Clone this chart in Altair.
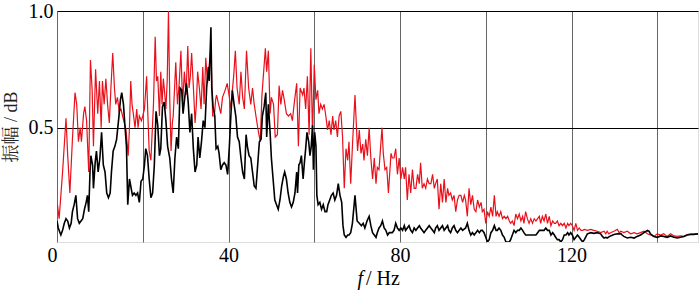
import altair as alt
import pandas as pd

# ---- red series (frequency Hz, amplitude) ----
red_f = [
    0.1, 0.5, 1.3, 2.1, 2.5, 3.0, 3.6, 4.2, 4.6, 5.0,
    5.4, 5.7, 6.2, 6.5, 6.9, 7.4, 7.8, 8.2, 8.5, 9.0,
    9.5, 9.9, 10.3, 10.6, 11.0, 11.4, 11.8, 12.2, 12.6, 13.0,
    13.4, 13.7, 14.1, 14.5, 14.9, 15.3, 15.7, 16.1, 16.6, 16.9,
    17.2, 17.5, 17.8, 18.2, 18.6, 18.9, 19.2, 19.7, 20.0, 20.4,
    20.9, 21.2, 21.5, 21.9, 22.2, 22.5, 22.9, 23.2, 23.5, 23.9,
    24.2, 24.5, 24.8, 25.1, 25.4, 25.7, 26.0, 26.3, 26.6, 26.9,
    27.1, 27.4, 27.7, 28.1, 28.5, 28.9, 29.3, 29.7, 30.1, 30.5,
    30.8, 31.1, 31.4, 31.9, 32.2, 32.5, 32.8, 33.2, 33.6, 34.0,
    34.3, 34.7, 35.1, 35.5, 35.9, 36.3, 36.7, 37.0, 37.2, 37.7,
    38.2, 38.6, 39.2, 39.7, 40.2, 40.6, 40.9, 41.2, 41.6, 42.0,
    42.5, 42.9, 43.3, 43.7, 44.2, 44.7, 45.2, 45.6, 46.0, 46.4,
    46.9, 47.4, 47.8, 48.2, 48.6, 48.9, 49.3, 49.7, 50.0, 50.5,
    50.9, 51.4, 51.8, 52.2, 52.6, 53.0, 53.5, 54.0, 54.5, 54.9,
    55.3, 55.9, 56.3, 56.7, 57.3, 57.6, 58.0, 58.4, 58.8, 59.2,
    59.6, 60.0, 60.4, 60.8, 61.1, 61.5, 61.9, 62.3, 62.7, 63.1,
    63.5, 63.9, 64.3, 64.6, 65.0, 65.4, 65.8, 66.2, 66.6, 67.0,
    67.4, 67.8, 68.1, 68.5, 68.9, 69.5, 70.1, 70.5, 70.9, 71.3,
    71.6, 72.0, 72.4, 72.8, 73.2, 73.6, 74.0, 74.4, 74.7, 75.1,
    75.8, 76.1, 76.5, 76.9, 77.3, 77.9, 78.2, 78.6, 79.0, 79.4,
    79.8, 80.2, 80.6, 81.0, 81.3, 81.7, 82.1, 82.5, 82.9, 83.3,
    83.7, 84.1, 84.5, 84.8, 85.2, 85.6, 86.0, 86.4, 86.8, 87.2,
    87.6, 88.0, 88.3, 88.7, 89.1, 89.5, 89.9, 90.3, 90.7, 91.1,
    91.4, 91.8, 92.2, 92.6, 93.0, 93.4, 93.8, 94.2, 94.6, 95.0,
    95.3, 95.7, 96.1, 96.5, 96.9, 97.3, 97.7, 98.1, 98.5, 98.9,
    99.2, 99.6, 100.0, 100.4, 100.8, 101.2, 101.6, 102.0, 102.4, 102.7,
    103.1, 103.5, 103.9, 104.3, 104.7, 105.1, 105.5, 105.8, 106.2, 106.6,
    107.0, 107.4, 107.8, 108.2, 108.6, 108.9, 109.3, 109.7, 110.1, 110.5,
    110.9, 111.3, 111.7, 112.1, 112.5, 112.8, 113.2, 113.6, 114.0, 114.4,
    114.8, 115.2, 115.6, 116.0, 116.3, 116.7, 117.1, 117.5, 117.9, 118.3,
    118.7, 119.1, 119.4, 119.8, 120.2, 120.6, 121.0, 121.4, 121.8, 122.2,
    122.6, 123.0, 123.7, 124.5, 125.2, 126.0, 126.8, 127.6, 128.0, 128.3,
    128.7, 129.1, 129.9, 130.3, 130.7, 131.1, 131.5, 132.2, 133.0, 133.8,
    134.6, 135.3, 136.1, 136.9, 137.7, 138.4, 139.2, 140.0, 140.8, 141.5,
    142.3, 143.1, 143.9, 144.7, 145.4, 146.2, 147.0, 147.8, 148.5, 149.5,
]
red_v = [
    0.17, 0.11, 0.31, 0.54, 0.38, 0.22, 0.45, 0.65, 0.60, 0.44,
    0.50, 0.44, 0.56, 0.59, 0.53, 0.31, 0.79, 0.66, 0.42, 0.75,
    0.56, 0.70, 0.50, 0.70, 0.60, 0.71, 0.60, 0.52, 0.68, 0.82,
    0.67, 0.60, 0.63, 0.57, 0.58, 0.55, 0.52, 0.49, 0.38, 0.50,
    0.70, 0.60, 0.56, 0.50, 0.58, 0.50, 0.55, 0.53, 0.55, 0.58,
    0.72, 0.55, 0.40, 0.36, 0.48, 0.60, 0.89, 0.70, 0.72, 0.55,
    0.74, 0.60, 0.71, 0.65, 0.58, 0.70, 1.00, 0.62, 0.40, 0.52,
    0.55, 0.66, 0.78, 0.60, 0.69, 0.83, 0.60, 0.74, 0.64, 0.85,
    0.67, 0.72, 0.82, 0.64, 0.52, 0.60, 0.74, 0.67, 0.58, 0.76,
    0.60, 0.80, 0.69, 0.77, 0.84, 0.55, 0.55, 0.62, 0.64, 0.60,
    0.56, 0.63, 0.66, 0.69, 0.63, 0.58, 0.66, 0.72, 0.83, 0.67,
    0.60, 0.74, 0.63, 0.58, 0.83, 0.67, 0.60, 0.67, 0.60, 0.55,
    0.49, 0.44, 0.64, 0.74, 0.84, 0.74, 0.83, 0.56, 0.63, 0.60,
    0.46, 0.47, 0.68, 0.60, 0.66, 0.62, 0.56, 0.55, 0.56, 0.53,
    0.60, 0.69, 0.42, 0.67, 0.64, 0.67, 0.58, 0.72, 0.47, 0.84,
    0.46, 0.77, 0.62, 0.66, 0.56, 0.60, 0.58, 0.60, 0.55, 0.49,
    0.53, 0.47, 0.55, 0.49, 0.53, 0.46, 0.55, 0.57, 0.46, 0.24,
    0.41, 0.36, 0.44, 0.26, 0.42, 0.64, 0.40, 0.49, 0.39, 0.43,
    0.36, 0.45, 0.38, 0.50, 0.37, 0.28, 0.37, 0.26, 0.33, 0.32,
    0.50, 0.39, 0.32, 0.33, 0.22, 0.39, 0.37, 0.37, 0.41, 0.30,
    0.37, 0.28, 0.33, 0.28, 0.33, 0.19, 0.30, 0.22, 0.32, 0.24,
    0.24, 0.30, 0.26, 0.35, 0.24, 0.26, 0.24, 0.28, 0.26, 0.26,
    0.30, 0.24, 0.26, 0.28, 0.15, 0.26, 0.18, 0.28, 0.18, 0.24,
    0.21, 0.22, 0.19, 0.21, 0.14, 0.19, 0.21, 0.21, 0.18, 0.21,
    0.19, 0.12, 0.24, 0.17, 0.21, 0.15, 0.14, 0.19, 0.16, 0.18,
    0.14, 0.15, 0.09, 0.14, 0.12, 0.16, 0.12, 0.21, 0.12, 0.14,
    0.12, 0.14, 0.11, 0.12, 0.11, 0.12, 0.10, 0.09, 0.10, 0.08,
    0.13, 0.11, 0.13, 0.10, 0.12, 0.09, 0.14, 0.11, 0.09, 0.11,
    0.09, 0.11, 0.10, 0.11, 0.12, 0.09, 0.12, 0.10, 0.13, 0.09,
    0.12, 0.08, 0.10, 0.09, 0.09, 0.10, 0.08, 0.09, 0.08, 0.09,
    0.07, 0.09, 0.08, 0.09, 0.08, 0.06, 0.09, 0.06, 0.07, 0.06,
    0.06, 0.064, 0.06, 0.064, 0.06, 0.056, 0.05, 0.056, 0.045, 0.056,
    0.045, 0.05, 0.056, 0.06, 0.064, 0.05, 0.056, 0.05, 0.056, 0.045,
    0.05, 0.045, 0.05, 0.056, 0.045, 0.04, 0.034, 0.045, 0.04, 0.046,
    0.034, 0.045, 0.036, 0.034, 0.036, 0.034, 0.042, 0.045, 0.045, 0.046,
]

# ---- black series ----
black_f = [
    0.0, 0.3, 0.9, 1.3, 1.7, 2.1, 2.5, 2.9, 3.3, 3.6,
    4.0, 4.4, 4.8, 5.2, 5.6, 6.0, 6.4, 6.8, 7.1, 7.4,
    7.7, 7.9, 8.3, 8.5, 8.9, 9.2, 9.6, 10.0, 10.4, 10.8,
    11.2, 11.6, 12.0, 12.4, 12.7, 13.1, 13.5, 13.9, 14.4, 14.8,
    15.1, 15.5, 15.8, 16.2, 16.5, 16.9, 17.2, 17.6, 18.0, 18.4,
    18.8, 19.2, 19.6, 20.0, 20.4, 20.7, 21.1, 21.5, 21.9, 22.3,
    22.7, 23.1, 23.5, 23.9, 24.2, 24.6, 25.0, 25.4, 25.8, 26.3,
    26.7, 27.1, 27.5, 27.9, 28.3, 28.7, 29.1, 29.4, 29.8, 30.2,
    30.6, 31.0, 31.4, 31.8, 32.2, 32.6, 32.9, 33.3, 33.7, 34.1,
    34.5, 34.9, 35.3, 35.5, 35.9, 36.1, 36.4, 36.8, 37.1, 37.5,
    37.8, 38.2, 38.6, 39.0, 39.4, 39.8, 40.2, 40.6, 40.9, 41.3,
    41.7, 42.1, 42.5, 42.9, 43.3, 43.7, 44.1, 44.4, 44.8, 45.2,
    45.6, 46.0, 46.4, 46.8, 47.2, 47.6, 47.9, 48.3, 48.7, 48.9,
    49.3, 49.7, 50.0, 50.4, 50.8, 51.2, 51.6, 52.0, 52.4, 52.8,
    53.1, 53.5, 53.9, 54.3, 54.7, 55.1, 55.5, 55.9, 56.1, 56.4,
    56.7, 57.0, 57.4, 57.7, 58.0, 58.3, 58.7, 59.0, 59.3, 59.6,
    59.8, 60.1, 60.4, 60.6, 60.9, 61.3, 61.7, 62.1, 62.5, 62.9,
    63.2, 63.6, 64.0, 64.4, 64.8, 65.2, 65.6, 66.0, 66.4, 66.7,
    67.0, 67.4, 67.8, 68.1, 68.5, 68.9, 69.5, 70.0, 70.5, 71.0,
    71.4, 71.8, 72.3, 72.8, 73.2, 73.6, 74.0, 74.4, 74.7, 75.1,
    75.5, 75.9, 76.3, 76.7, 77.1, 77.5, 77.8, 78.2, 78.6, 79.0,
    79.4, 79.8, 80.2, 80.6, 81.0, 81.3, 81.7, 82.1, 82.5, 82.9,
    83.3, 83.7, 84.1, 84.5, 84.8, 85.2, 85.6, 86.0, 86.4, 86.8,
    87.2, 87.6, 88.0, 88.3, 88.7, 89.1, 89.5, 89.9, 90.3, 90.7,
    91.1, 91.4, 91.8, 92.2, 92.6, 93.0, 93.4, 93.8, 94.2, 94.6,
    95.3, 95.7, 96.1, 96.5, 96.9, 97.3, 97.7, 98.1, 98.5, 98.9,
    99.2, 99.6, 100.0, 100.4, 100.8, 101.2, 101.6, 102.0, 102.4, 102.7,
    103.1, 103.5, 103.9, 104.3, 104.7, 105.1, 105.5, 105.8, 106.2, 106.6,
    107.0, 107.4, 107.8, 108.2, 108.6, 108.9, 109.3, 109.7, 110.1, 110.5,
    110.9, 111.3, 111.7, 112.1, 112.5, 112.8, 113.2, 113.6, 114.0, 114.4,
    114.8, 115.2, 115.6, 116.0, 116.3, 116.7, 117.1, 117.5, 117.9, 118.3,
    118.7, 119.1, 119.4, 119.8, 120.2, 120.6, 121.0, 121.4, 121.8, 122.2,
    122.6, 123.0, 123.7, 124.5, 125.2, 126.0, 126.8, 127.2, 127.6, 128.0,
    128.3, 129.1, 129.9, 130.7, 131.5, 131.8, 132.2, 133.0, 133.8, 134.6,
    135.3, 136.1, 136.9, 137.7, 138.1, 138.4, 139.2, 140.0, 140.8, 141.5,
    142.3, 143.1, 143.9, 144.7, 145.4, 146.2, 147.0, 147.8, 148.5, 149.5,
]
black_v = [
    0.10, 0.07, 0.04, 0.06, 0.09, 0.11, 0.10, 0.07, 0.09, 0.14,
    0.17, 0.21, 0.11, 0.09, 0.10, 0.11, 0.15, 0.18, 0.21, 0.14,
    0.31, 0.38, 0.34, 0.24, 0.35, 0.40, 0.31, 0.37, 0.48, 0.34,
    0.31, 0.22, 0.20, 0.22, 0.31, 0.40, 0.42, 0.45, 0.54, 0.62,
    0.65, 0.60, 0.52, 0.42, 0.17, 0.28, 0.25, 0.21, 0.22, 0.21,
    0.22, 0.18, 0.27, 0.28, 0.34, 0.41, 0.38, 0.28, 0.20, 0.22,
    0.34, 0.57, 0.51, 0.38, 0.41, 0.59, 0.61, 0.53, 0.42, 0.37,
    0.28, 0.22, 0.37, 0.46, 0.41, 0.67, 0.66, 0.56, 0.63, 0.69,
    0.61, 0.48, 0.56, 0.41, 0.31, 0.34, 0.46, 0.37, 0.44, 0.53,
    0.50, 0.67, 0.76, 0.70, 0.93, 0.67, 0.59, 0.55, 0.41, 0.42,
    0.39, 0.32, 0.34, 0.35, 0.34, 0.30, 0.42, 0.57, 0.66, 0.60,
    0.55, 0.46, 0.44, 0.37, 0.31, 0.28, 0.47, 0.42, 0.38, 0.37,
    0.31, 0.25, 0.24, 0.34, 0.44, 0.45, 0.55, 0.59, 0.65, 0.46,
    0.60, 0.48, 0.37, 0.28, 0.19, 0.17, 0.15, 0.19, 0.25, 0.29,
    0.31, 0.28, 0.22, 0.18, 0.16, 0.18, 0.22, 0.31, 0.22, 0.34,
    0.35, 0.38, 0.28, 0.35, 0.41, 0.48, 0.44, 0.38, 0.42, 0.51,
    0.32, 0.48, 0.42, 0.21, 0.17, 0.18, 0.15, 0.17, 0.14, 0.14,
    0.17, 0.19, 0.21, 0.22, 0.19, 0.21, 0.26, 0.21, 0.18, 0.08,
    0.04, 0.03, 0.04, 0.04, 0.05, 0.09, 0.21, 0.10, 0.09, 0.08,
    0.09, 0.07, 0.10, 0.12, 0.08, 0.05, 0.04, 0.03, 0.05, 0.07,
    0.08, 0.10, 0.07, 0.06, 0.04, 0.05, 0.05, 0.05, 0.06, 0.09,
    0.07, 0.06, 0.07, 0.06, 0.08, 0.06, 0.07, 0.08, 0.06, 0.05,
    0.07, 0.06, 0.07, 0.08, 0.07, 0.06, 0.05, 0.06, 0.07, 0.08,
    0.07, 0.06, 0.05, 0.07, 0.08, 0.06, 0.07, 0.08, 0.06, 0.07,
    0.08, 0.06, 0.05, 0.07, 0.08, 0.06, 0.05, 0.06, 0.07, 0.06,
    0.07, 0.09, 0.06, 0.04, 0.05, 0.04, 0.05, 0.06, 0.05, 0.06,
    0.06, 0.05, 0.03, 0.01, 0.02, 0.05, 0.06, 0.08, 0.06, 0.06,
    0.07, 0.06, 0.04, 0.03, 0.01, 0.01, 0.01, 0.02, 0.04, 0.06,
    0.05, 0.06, 0.06, 0.07, 0.06, 0.05, 0.04, 0.04, 0.04, 0.04,
    0.04, 0.04, 0.04, 0.05, 0.06, 0.06, 0.06, 0.06, 0.07, 0.06,
    0.06, 0.04, 0.05, 0.04, 0.03, 0.02, 0.02, 0.01, 0.02, 0.04,
    0.04, 0.05, 0.04, 0.05, 0.04, 0.02, 0.03, 0.04, 0.03, 0.02,
    0.01, 0.02, 0.045, 0.05, 0.047, 0.05, 0.045, 0.034, 0.027, 0.03,
    0.027, 0.036, 0.042, 0.045, 0.046, 0.04, 0.034, 0.027, 0.03, 0.027,
    0.034, 0.04, 0.05, 0.06, 0.056, 0.045, 0.034, 0.03, 0.036, 0.034,
    0.03, 0.036, 0.03, 0.027, 0.03, 0.034, 0.04, 0.042, 0.042, 0.045,
]

x_ticks = [0, 20, 40, 60, 80, 100, 120, 140]
y_ticks = [0.5, 1.0]
x_title_italic = ["f"]
x_title_rest = ["/ Hz"]
y_title = "振幅 / dB"

red_df = pd.DataFrame({"f": red_f, "v": red_v})
black_df = pd.DataFrame({"f": black_f, "v": black_v})

SERIF = "Liberation Serif"

x_scale = alt.Scale(domain=[0, 149.5], nice=False, zero=False)
y_scale = alt.Scale(domain=[0.01, 1.0], nice=False, zero=False)

x_axis = alt.Axis(
    values=x_ticks,
    labelExpr="datum.value % 40 == 0 ? datum.label : ''",
    format="d",
    grid=True, gridColor="#666666", gridWidth=1,
    domain=False, ticks=False,
    labelFont=SERIF, labelFontSize=20, labelColor="#000000",
    labelPadding=3, labelFlush=False, labelOverlap=False,
    labelAlign=alt.expr("datum.value == 0 ? 'right' : 'center'"),
    title=None,
)
y_axis = alt.Axis(
    values=y_ticks,
    format=".1f",
    grid=True, gridColor="#000000", gridWidth=1,
    domain=False, ticks=False,
    labelFont=SERIF, labelFontSize=20, labelColor="#000000",
    labelPadding=4, labelOverlap=False,
    title=y_title,
    titleFont="Liberation Serif, Noto Serif CJK SC, Noto Sans CJK SC",
    titleFontSize=18, titleFontWeight="normal", titleColor="#222222",
    titlePadding=8,
)

red_line = alt.Chart(red_df).mark_line(color="#e8101a", strokeWidth=1.2, clip=True).encode(
    x=alt.X("f:Q", scale=x_scale, axis=x_axis),
    y=alt.Y("v:Q", scale=y_scale, axis=y_axis),
)
black_line = alt.Chart(black_df).mark_line(color="#000000", strokeWidth=1.6, clip=True).encode(
    x=alt.X("f:Q", scale=x_scale),
    y=alt.Y("v:Q", scale=y_scale),
)

t1 = alt.Chart(pd.DataFrame({"t": x_title_italic})).mark_text(
    font=SERIF, fontSize=20, fontStyle="italic", align="right", baseline="alphabetic", color="#000000"
).encode(text="t:N", x=alt.value(306), y=alt.value(274))
t2 = alt.Chart(pd.DataFrame({"t": x_title_rest})).mark_text(
    font=SERIF, fontSize=20, align="left", baseline="alphabetic", color="#000000"
).encode(text="t:N", x=alt.value(309), y=alt.value(274))

chart = alt.layer(red_line, black_line, t1, t2).properties(
    width=641, height=231,
    padding={"left": 57, "top": 11, "right": 2, "bottom": 50},
    autosize=alt.AutoSizeParams(type="none"),
).configure_view(stroke="#000000", strokeWidth=1.5).configure(background="white")

chart.save("out.html", embed_options={"renderer": "svg", "actions": False})
